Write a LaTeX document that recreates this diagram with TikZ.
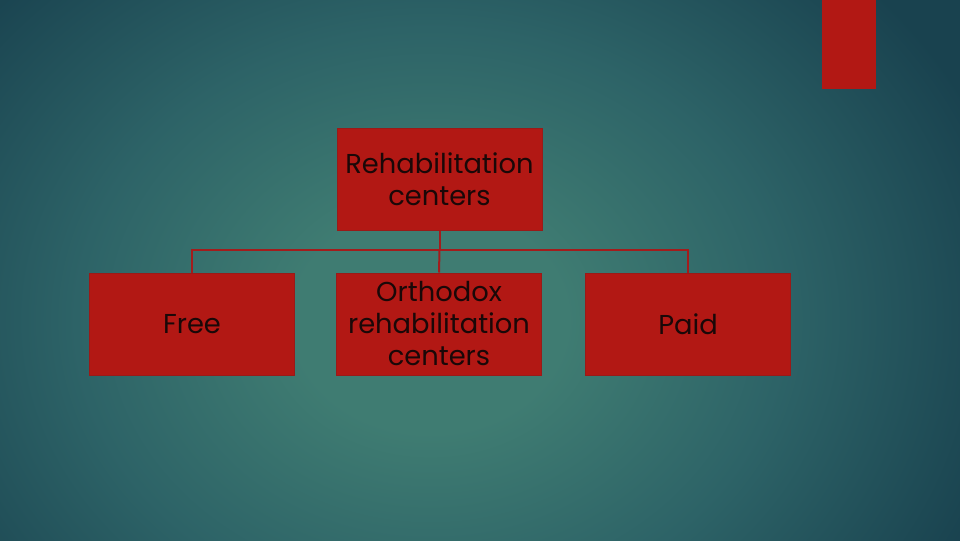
\documentclass[tikz,border=0pt]{standalone}
\usepackage{fontspec}
\setmainfont{Poppins}
\definecolor{bgc}{HTML}{3F7C72}
\definecolor{bgm}{HTML}{2D6367}
\definecolor{bge}{HTML}{19424F}
\definecolor{boxred}{HTML}{B21814}
\definecolor{boxedge}{HTML}{9A1A18}
\definecolor{linered}{HTML}{A31C1C}
\definecolor{txt}{HTML}{1A0808}
\pgfdeclareradialshading{bgshade}{\pgfpoint{0bp}{0bp}}{color(0bp)=(bgc); color(5bp)=(bgc); color(13bp)=(bgm); color(22bp)=(bge); color(25bp)=(bge); color(50bp)=(bge)}
\tikzset{
  orgbox/.style={draw=boxedge, line width=0.75pt, fill=boxred, minimum width=153.75pt, minimum height=76.5pt, inner sep=0pt, align=center, text=txt, font=\fontsize{20.5pt}{24pt}\selectfont},
  conn/.style={draw=linered, line width=1.5pt}
}
\begin{document}
\begin{tikzpicture}[x=0.75pt,y=-0.75pt]
\useasboundingbox (0,0) rectangle (960,540);
\begin{scope}
\clip (0,0) rectangle (960,540);
\fill[bge] (0,0) rectangle (960,540);
\shade[shading=bgshade] (430,320) ellipse (680 and 560);
\end{scope}
\fill[boxred] (822,0) rectangle (876,89);
\node[orgbox] (top) at (439.5,179) {Rehabilitation\\centers};
\node[orgbox] (free) at (192,324) {Free};
\node[orgbox] (orth) at (439,324) {Orthodox\\rehabilitation\\centers};
\node[orgbox] (paid) at (688,324) {Paid};
\coordinate (j) at (439.5,250);
\draw[conn] (top.south) -- (j);
\draw[conn] (free.north) |- (j) -| (paid.north);
\draw[conn] (j) -- (orth.north);
\end{tikzpicture}
\end{document}
